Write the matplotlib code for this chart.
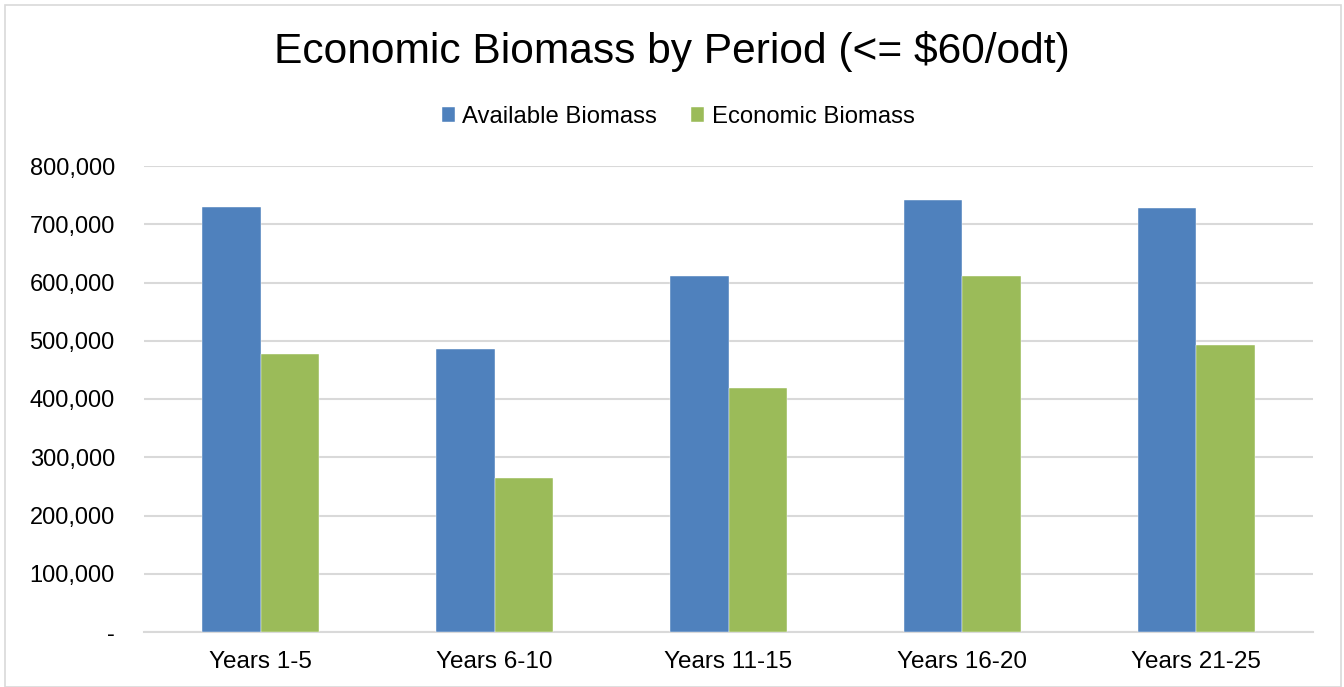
import matplotlib
matplotlib.use("Agg")
import matplotlib.pyplot as plt
import numpy as np
from matplotlib.patches import Rectangle
from matplotlib.ticker import FuncFormatter

categories = ["Years 1-5", "Years 6-10", "Years 11-15", "Years 16-20", "Years 21-25"]
available = [729000, 486000, 611000, 742000, 728000]
economic = [478000, 264000, 419000, 612000, 492000]
series_names = ["Available Biomass", "Economic Biomass"]
yticks = [0, 100000, 200000, 300000, 400000, 500000, 600000, 700000, 800000]

plt.rcParams['font.family'] = ['Liberation Sans', 'DejaVu Sans']

fig = plt.figure(figsize=(13.44, 6.87), dpi=100)
ax = fig.add_axes([144/1344, 55/687, (1313-144)/1344, (632-166)/687])

x = np.arange(len(categories))
w = 0.25
ax.bar(x - w/2, available, w, color="#4F81BD", label=series_names[0], zorder=3,
       edgecolor="white", linewidth=0.3)
ax.bar(x + w/2, economic, w, color="#9BBB59", label=series_names[1], zorder=3,
       edgecolor="white", linewidth=0.3)

ax.set_xlim(-0.5, len(categories) - 0.5)
ax.set_ylim(0, 800000)
ax.set_yticks(yticks)
ax.yaxis.set_major_formatter(FuncFormatter(lambda v, p: "-" if v == 0 else f"{int(v):,}"))
ax.set_xticks(x)
ax.set_xticklabels(categories)
ax.tick_params(axis='y', length=0, pad=21, labelsize=17, colors="black")
ax.tick_params(axis='x', length=0, pad=14, labelsize=17.5, colors="black")
ax.grid(axis='y', color="#d9d9d9", linewidth=1.5, zorder=0)
for s in ["top", "right", "left"]:
    ax.spines[s].set_visible(False)
ax.spines["bottom"].set_color("#d9d9d9")
ax.spines["bottom"].set_linewidth(1.5)

fig.text(0.5, 1 - 52/687, "Economic Biomass by Period (<= $60/odt)", ha="center", va="center",
         fontsize=30.6)
leg = fig.legend(loc="center", bbox_to_anchor=(678/1344, 1 - 117/687), ncol=2, frameon=False,
                 fontsize=17.2, handlelength=0.55, handleheight=0.55, handletextpad=0.3,
                 columnspacing=1.45)

fig.patches.append(Rectangle((5/1344, 0.0), (1341-5)/1344, 1 - 5/687, transform=fig.transFigure,
                             fill=False, edgecolor="#d9d9d9", linewidth=1.2))

fig.savefig("out.png", dpi=100)
